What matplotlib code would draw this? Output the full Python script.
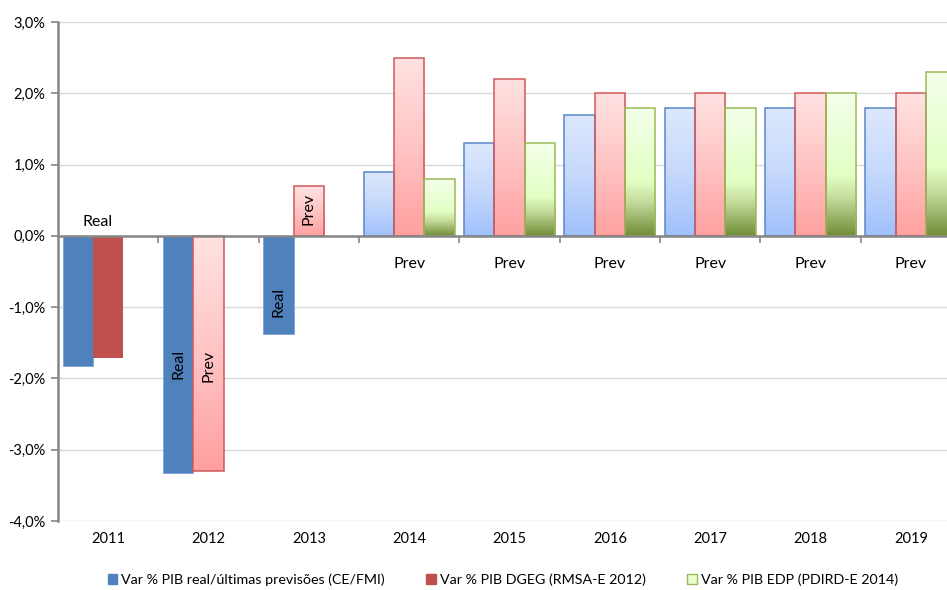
import numpy as np
import matplotlib.pyplot as plt
from matplotlib.colors import LinearSegmentedColormap
from matplotlib.patches import Patch

plt.rcParams['font.family'] = ['Lato', 'DejaVu Sans']

years = ['2011', '2012', '2013', '2014', '2015', '2016', '2017', '2018', '2019']
pib_real = [-1.82, -3.32, -1.38, 0.9, 1.3, 1.7, 1.8, 1.8, 1.8]       # CE/FMI
pib_dgeg = [-1.71, -3.3, 0.7, 2.5, 2.2, 2.0, 2.0, 2.0, 2.0]          # RMSA-E 2012
pib_edp = [np.nan, np.nan, np.nan, 0.8, 1.3, 1.8, 1.8, 2.0, 2.3]     # PDIRD-E 2014
n_real_blue = 3   # first years drawn solid (real values)
n_real_red = 1

legend_labels = ['Var % PIB real/últimas previsões (CE/FMI)',
                 'Var % PIB DGEG (RMSA-E 2012)',
                 'Var % PIB EDP (PDIRD-E 2014)']

blue_solid = '#4f81bd'
red_solid = '#c0504d'
cmap_blue = LinearSegmentedColormap.from_list('b', ['#dde8fc', '#c6d9fc', '#a0c0fb'])
cmap_red = LinearSegmentedColormap.from_list('r', ['#ffe2e2', '#ffc4c4', '#ffa0a0'])
cmap_green = LinearSegmentedColormap.from_list(
    'g', [(0, '#f4ffea'), (0.58, '#e2ffc4'), (0.74, '#c4da9a'), (1, '#718d38')])

fig = plt.figure(figsize=(9.47, 5.90), dpi=100)
ax = fig.add_axes([58 / 947, 1 - 521 / 590, 903 / 947, 499 / 590])

x = np.arange(len(years))
w = 0.303
grad = np.linspace(0, 1, 256).reshape(-1, 1)


def grad_bar(xc, val, cmap, edge):
    if np.isnan(val):
        return
    b = ax.bar(xc, val, w, color='none', edgecolor=edge, linewidth=1.1, zorder=4)[0]
    top, bot = max(val, 0), min(val, 0)
    im = ax.imshow(grad, cmap=cmap, aspect='auto', interpolation='bilinear',
                   extent=[xc - w / 2, xc + w / 2, bot, top], origin='upper', zorder=3)
    im.set_clip_path(b)


for i in x:
    if i < n_real_blue:
        ax.bar(i - w, pib_real[i], w, color=blue_solid, edgecolor='#7fa3d6', linewidth=0.6, zorder=3)
    else:
        grad_bar(i - w, pib_real[i], cmap_blue, '#5a86c8')
    if i < n_real_red:
        ax.bar(i, pib_dgeg[i], w, color=red_solid, zorder=3)
    else:
        grad_bar(i, pib_dgeg[i], cmap_red, '#d0585a')
    grad_bar(i + w, pib_edp[i], cmap_green, '#9bbb59')

ax.set_xlim(-0.5, 8.5)
ax.set_ylim(-4, 3)
ax.set_yticks(np.arange(-4, 3.1, 1))
ax.set_yticklabels([f'{v:.1f}%'.replace('.', ',') for v in np.arange(-4, 3.1, 1)], fontsize=10.5)
ax.yaxis.grid(True, color='#d9d9d9', linewidth=1.0, zorder=0)
ax.set_axisbelow(True)

for s in ['top', 'right']:
    ax.spines[s].set_visible(False)
ax.spines['left'].set_color('#868686')
ax.spines['left'].set_linewidth(1.8)
ax.spines['bottom'].set_position(('data', 0))
ax.spines['bottom'].set_color('#868686')
ax.spines['bottom'].set_linewidth(1.8)
ax.spines['bottom'].set_zorder(5)
ax.set_xticks(x[:-1] + 0.5)
ax.set_xticklabels([])
ax.tick_params(axis='x', direction='out', length=5, color='#868686', width=1.2)
ax.tick_params(axis='y', direction='out', length=5, color='#868686', width=1.2, pad=4)

for i, yr in enumerate(years):
    ax.text(i, -4.16, yr, ha='center', va='top', fontsize=10.5)

# data labels
ax.text(-0.11, 0.2, 'Real', ha='center', va='center', fontsize=11.5, zorder=6)
ax.text(1 - w, -1.8, 'Real', ha='center', va='center', rotation=90, fontsize=11.5, zorder=6)
ax.text(1, -1.83, 'Prev', ha='center', va='center', rotation=90, fontsize=11.5, zorder=6)
ax.text(2 - w, -0.92, 'Real', ha='center', va='center', rotation=90, fontsize=11.5, zorder=6)
ax.text(2, 0.38, 'Prev', ha='center', va='center', rotation=90, fontsize=11.5, zorder=6)
for i in range(3, len(years)):
    ax.text(i, -0.4, 'Prev', ha='center', va='center', fontsize=11.5, zorder=6)

handles = [Patch(facecolor=blue_solid, edgecolor=blue_solid),
           Patch(facecolor=red_solid, edgecolor=red_solid),
           Patch(facecolor='#e8ffd0', edgecolor='#9bbb59')]
fig.legend(handles, legend_labels, loc='center', bbox_to_anchor=(0.531, 1 - 580 / 590),
           ncol=3, frameon=False, fontsize=10.3, handlelength=0.65, handleheight=0.65,
           handletextpad=0.3, columnspacing=2.9)

plt.savefig('out.png', dpi=100)
